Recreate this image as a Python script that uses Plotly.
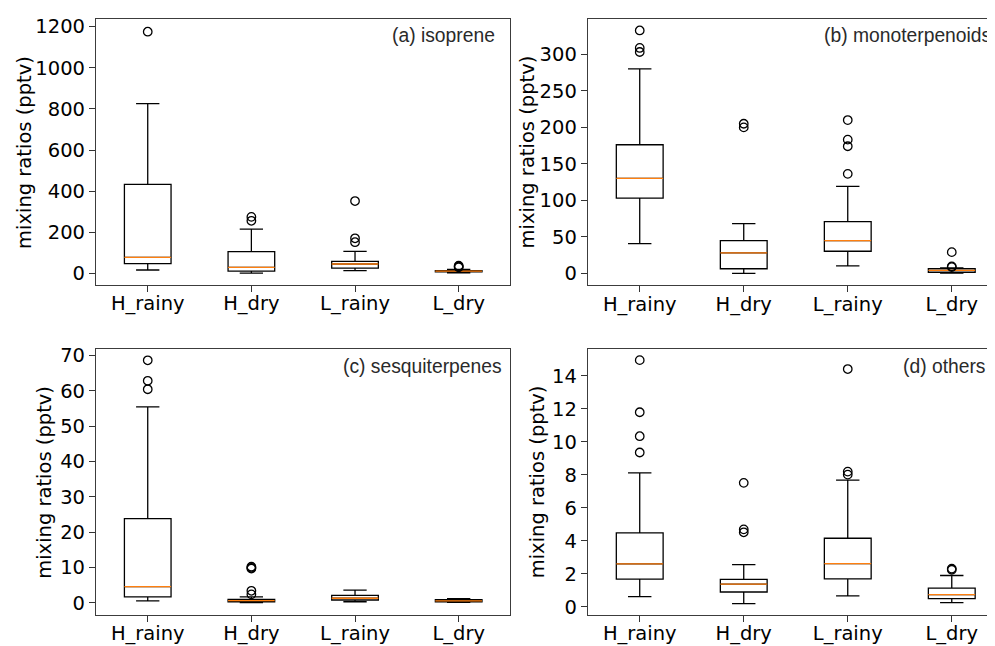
import plotly.graph_objects as go

categories = ["H_rainy", "H_dry", "L_rainy", "L_dry"]
positions = [1, 2, 3, 4]

# (a) isoprene
iso_q1 = [48, 11, 26, 8]
iso_med = [78, 30, 46, 11]
iso_q3 = [433, 106, 59, 14]
iso_lo = [17, 1.5, 14, 3]
iso_hi = [825, 216, 107, 20]
iso_out = [[1175], [275, 256], [352, 171, 152], [38, 34, 30]]

# (b) monoterpenoids
mono_q1 = [103, 6.3, 30.2, 1.5]
mono_med = [130, 27.9, 44.7, 4]
mono_q3 = [176, 44.7, 70.8, 6.5]
mono_lo = [40.6, 0, 10.3, 0.3]
mono_hi = [280, 68, 119, 7.5]
mono_out = [[332.5, 308.6, 303], [204.8, 199.8], [209.8, 183, 174, 136.2], [29, 9.5, 8.5]]

# (c) sesquiterpenes
ses_q1 = [1.7, 0.3, 0.8, 0.3]
ses_med = [4.6, 0.6, 1.3, 0.55]
ses_q3 = [23.8, 1.0, 2.1, 0.9]
ses_lo = [0.55, 0.05, 0.3, 0.1]
ses_hi = [55.4, 1.7, 3.6, 1.2]
ses_out = [[68.6, 62.8, 60.4], [10.2, 9.9, 9.7, 3.4, 2.4], [], []]

# (d) others
oth_q1 = [1.68, 0.9, 1.7, 0.5]
oth_med = [2.6, 1.38, 2.62, 0.74]
oth_q3 = [4.48, 1.66, 4.16, 1.14]
oth_lo = [0.62, 0.2, 0.66, 0.26]
oth_hi = [8.12, 2.56, 7.68, 1.9]
oth_out = [[14.96, 11.8, 10.35, 9.36], [7.52, 4.7, 4.52], [14.42, 8.2, 8.02], [2.32, 2.25]]

panels = [
    ("(a) isoprene", iso_q1, iso_med, iso_q3, iso_lo, iso_hi, iso_out, [-56, 1237], [0, 200, 400, 600, 800, 1000, 1200]),
    ("(b) monoterpenoids", mono_q1, mono_med, mono_q3, mono_lo, mono_hi, mono_out, [-16.4, 348.7], [0, 50, 100, 150, 200, 250, 300]),
    ("(c) sesquiterpenes", ses_q1, ses_med, ses_q3, ses_lo, ses_hi, ses_out, [-3.47, 71.9], [0, 10, 20, 30, 40, 50, 60, 70]),
    ("(d) others", oth_q1, oth_med, oth_q3, oth_lo, oth_hi, oth_out, [-0.5, 15.66], [0, 2, 4, 6, 8, 10, 12, 14]),
]

W, H = 995, 646
OFF = 8  # page body margin


def px(X):
    return (X - OFF) / W


def py(Y):
    return 1 - (Y - OFF) / H


# window-pixel frames: left, right, top, bottom
frames = [(96, 511, 15, 284), (588.3, W + OFF, 14.7, 284.3), (96, 511, 348.3, 617.7), (588.3, W + OFF, 348.3, 617.7)]
xranges = [[0.5, 4.5], [0.5, 4.483], [0.5, 4.5], [0.5, 4.483]]
ann_pos = [(390, 32), (823, 32), (341, 366), (902, 366)]
ytitle_x = [25, 528, 45, 538]

TICKFONT = dict(family="DejaVu Sans", size=19.5, color="black")
fig = go.Figure()
layout = dict(width=W, height=H, margin=dict(l=0, r=0, t=0, b=0),
              paper_bgcolor="white", plot_bgcolor="white", showlegend=False,
              boxmode="overlay", annotations=[])

for i, (label, q1, med, q3, lo, hi, out, yr, ytv) in enumerate(panels):
    xa = "x" if i == 0 else f"x{i+1}"
    ya = "y" if i == 0 else f"y{i+1}"
    fig.add_trace(go.Box(x=positions, q1=q1, median=med, q3=q3, lowerfence=lo, upperfence=hi,
                         width=0.45, whiskerwidth=0.5, boxpoints=False,
                         line=dict(color="black", width=1.3), fillcolor="rgba(0,0,0,0)",
                         xaxis=xa, yaxis=ya, hoverinfo="skip"))
    fig.add_trace(go.Box(x=positions, q1=med, median=med, q3=med, lowerfence=med, upperfence=med,
                         width=0.45, whiskerwidth=0, boxpoints=False,
                         line=dict(color="#ff7f0e", width=1.3), fillcolor="rgba(0,0,0,0)",
                         xaxis=xa, yaxis=ya, hoverinfo="skip"))
    ox, oy = [], []
    for p, vals in zip(positions, out):
        for v in vals:
            ox.append(p)
            oy.append(v)
    fig.add_trace(go.Scatter(x=ox, y=oy, mode="markers",
                             marker=dict(symbol="circle-open", size=8.5, color="black",
                                         line=dict(width=1.3, color="black")),
                             xaxis=xa, yaxis=ya, hoverinfo="skip"))
    l, r, t, b = frames[i]
    layout["xaxis" if i == 0 else f"xaxis{i+1}"] = dict(
        domain=[px(l), min(1.0, px(r))], range=xranges[i], anchor=ya,
        tickvals=positions, ticktext=categories, tickfont=TICKFONT,
        showline=True, mirror=True, linecolor="#3c3c3c", linewidth=1,
        ticks="outside", ticklen=6, tickcolor="#333", ticklabelstandoff=-5,
        showgrid=False, zeroline=False)
    layout["yaxis" if i == 0 else f"yaxis{i+1}"] = dict(
        domain=[py(b), py(t)], range=yr, anchor=xa,
        tickvals=ytv, tickfont=TICKFONT,
        showline=True, mirror=True, linecolor="#3c3c3c", linewidth=1,
        ticks="outside", ticklen=6, tickcolor="#333", showgrid=False, zeroline=False)
    ax, ay = ann_pos[i]
    layout["annotations"].append(dict(text=label, x=px(ax), y=py(ay), xref="paper", yref="paper",
                                      xanchor="left", yanchor="middle", showarrow=False,
                                      font=dict(family="Liberation Sans", size=19.3, color="#2a2a2a")))
    layout["annotations"].append(dict(text="mixing ratios (pptv)", x=px(ytitle_x[i]),
                                      y=py((t + b) / 2), xref="paper", yref="paper",
                                      xanchor="center", yanchor="middle", textangle=-90,
                                      showarrow=False, font=dict(family="DejaVu Sans", size=19.5, color="black")))

fig.update_layout(**layout)
fig.write_html("out.html")
